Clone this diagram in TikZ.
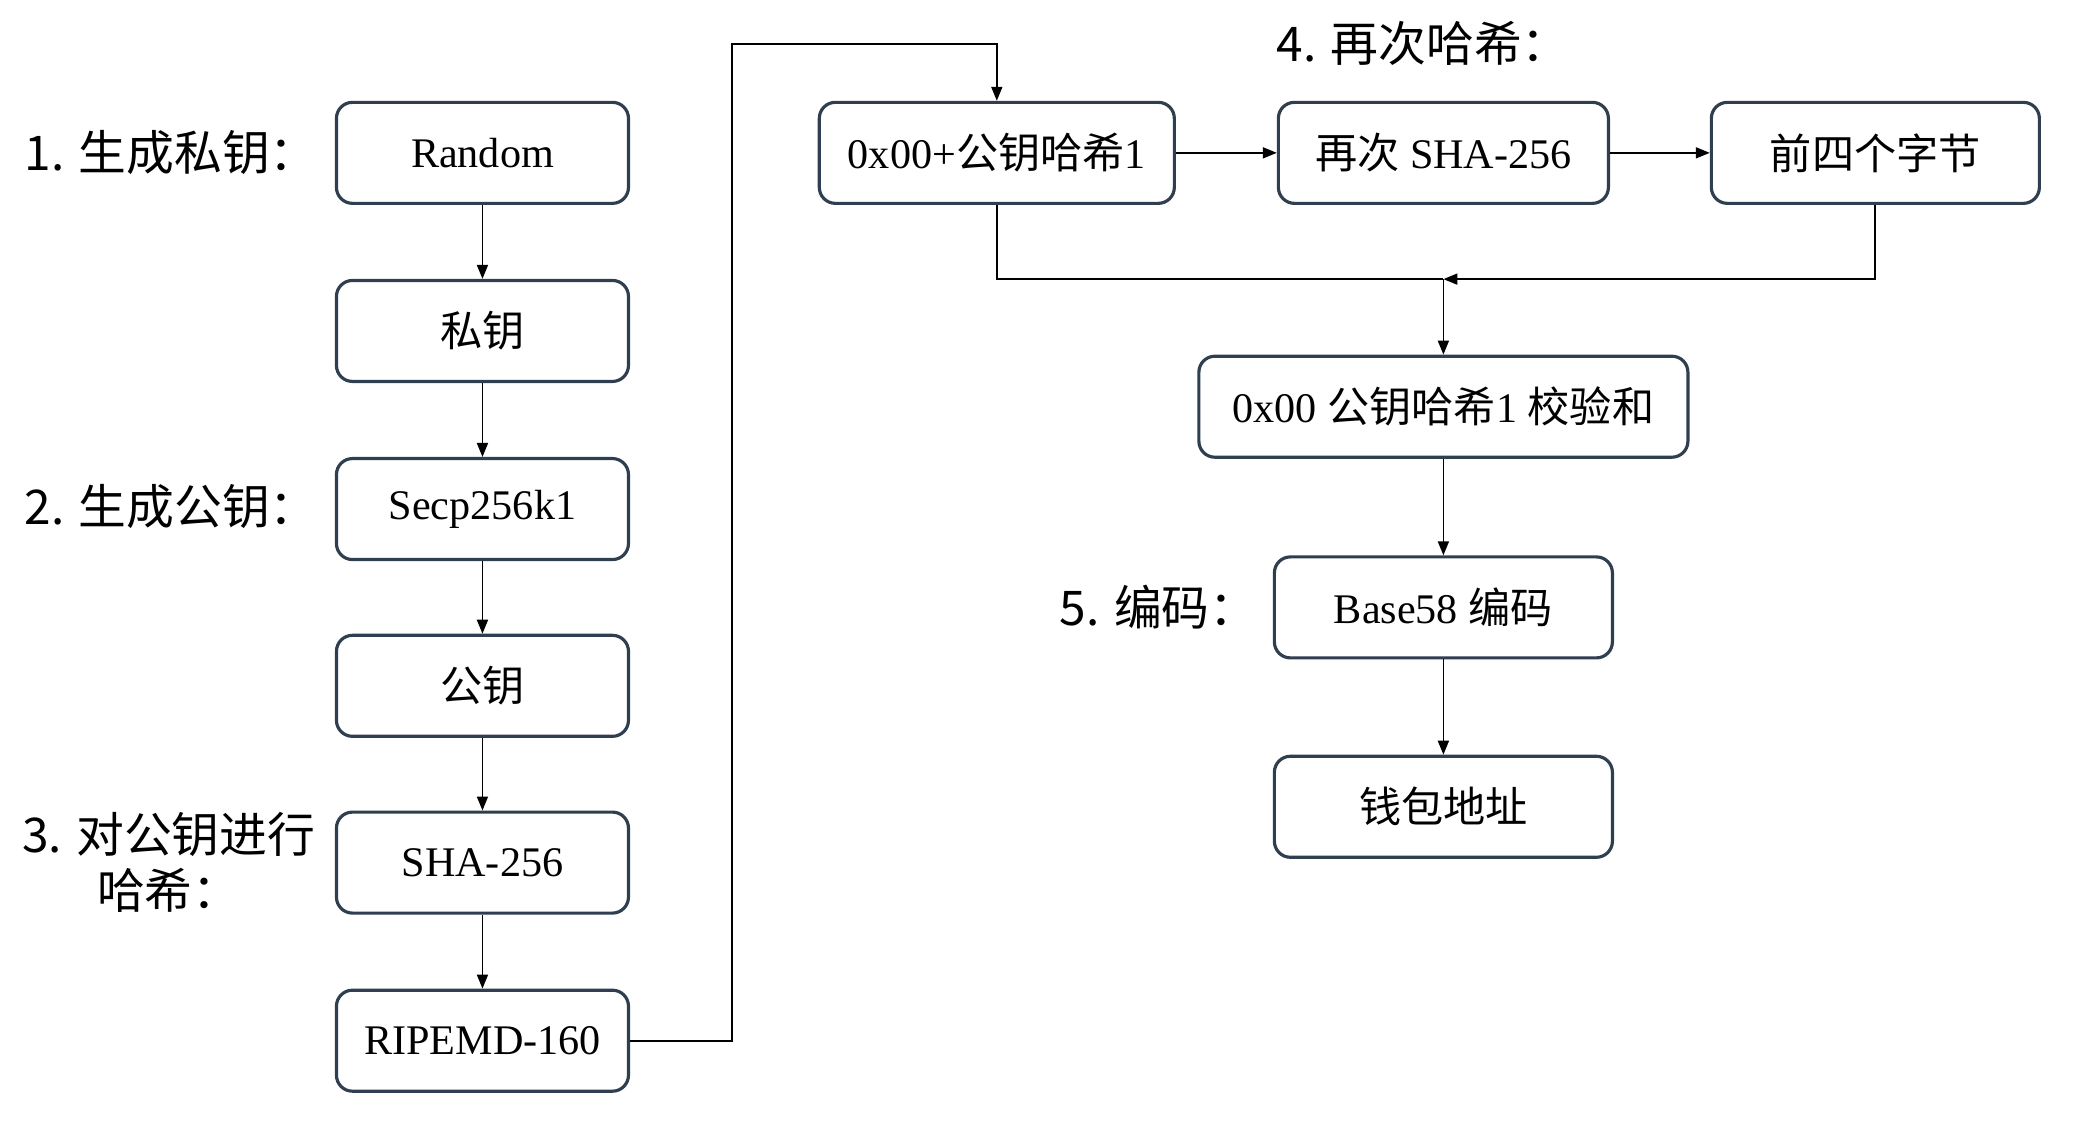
\documentclass[tikz,border=0pt]{standalone}
\usepackage{fontspec}
\setmainfont{Liberation Serif}
\newfontfamily\cjk{Noto Sans CJK SC}
\usetikzlibrary{arrows.meta}
\definecolor{boxline}{HTML}{2F3F50}
\begin{document}
\begin{tikzpicture}[x=0.01329cm,y=-0.01329cm,
  stepbox/.style={draw=boxline,line width=0.9pt,rounded corners=1.6mm,fill=white,
    minimum width=2.92cm,minimum height=1.01cm,inner sep=0pt,font=\fontsize{12}{14}\selectfont},
  steplabel/.style={font=\cjk\fontsize{13.6}{15.8}\selectfont,inner sep=0pt},
  arr/.style={-{Triangle[length=1.4mm,width=1.1mm]},line width=0.5pt}]
\useasboundingbox (0,0) rectangle (1568,857);
% left column
\node[stepbox] (rnd) at (363,115) {Random};
\node[stepbox] (prv) at (363,249) {\cjk 私钥};
\node[stepbox] (sec) at (363,383) {Secp256k1};
\node[stepbox] (pub) at (363,516) {\cjk 公钥};
\node[stepbox] (sha) at (363,649) {SHA-256};
\node[stepbox] (rip) at (363,783) {RIPEMD-160};
% right part
\node[stepbox,minimum width=3.55cm] (pfx) at (750,115) {0x00+{\cjk 公钥哈希}1};
\node[stepbox,minimum width=3.30cm] (dbl) at (1086,115) {{\cjk 再次} SHA-256};
\node[stepbox,minimum width=3.28cm] (fst) at (1411,115) {\cjk 前四个字节};
\node[stepbox,minimum width=4.89cm] (chk) at (1086,306) {0x00 {\cjk 公钥哈希}1 {\cjk 校验和}};
\node[stepbox,minimum width=3.38cm] (b58) at (1086,457) {Base58 {\cjk 编码}};
\node[stepbox,minimum width=3.38cm] (addr) at (1086,607) {\cjk 钱包地址};
% step labels
\node[steplabel,anchor=west] (lab1) at (18,115) {1. 生成私钥：};
\node[steplabel,anchor=west] (lab2) at (18,381) {2. 生成公钥：};
\node[steplabel,align=center] (lab3) at (127,649) {3. 对公钥进行\\哈希：};
\node[steplabel,anchor=west] (lab4) at (960,33) {4. 再次哈希：};
\node[steplabel,anchor=west] (lab5) at (797,457) {5. 编码：};
% connectors
\coordinate (bend) at (551,33);
\coordinate (merge) at (1086,210);
\draw[arr] (rnd) -- (prv);
\draw[arr] (prv) -- (sec);
\draw[arr] (sec) -- (pub);
\draw[arr] (pub) -- (sha);
\draw[arr] (sha) -- (rip);
\draw[arr] (rip.east) -| (bend) -| (pfx.north);
\draw[arr] (pfx) -- (dbl);
\draw[arr] (dbl) -- (fst);
\draw[line width=0.5pt] (pfx.south) |- (merge);
\draw[arr] (fst.south) |- (merge);
\draw[arr] (merge) -- (chk.north);
\draw[arr] (chk) -- (b58);
\draw[arr] (b58) -- (addr);
\end{tikzpicture}
\end{document}
